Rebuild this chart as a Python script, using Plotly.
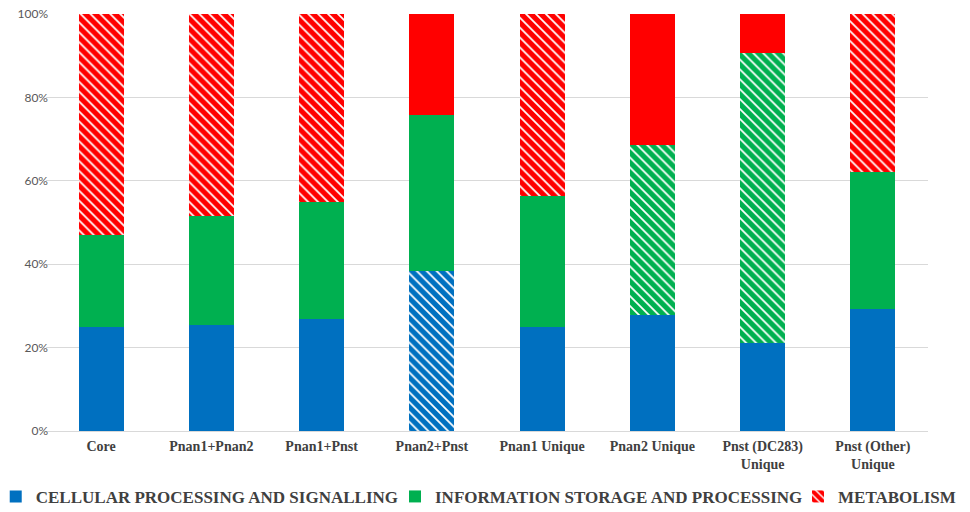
import plotly.graph_objects as go

categories = ["Core", "Pnan1+Pnan2", "Pnan1+Pnst", "Pnan2+Pnst", "Pnan1 Unique",
              "Pnan2 Unique", "Pnst (DC283)<br>Unique", "Pnst (Other)<br>Unique"]

# percentages per group
cellular = [24.9, 25.4, 26.9, 38.3, 25.0, 27.9, 21.1, 29.3]
information = [22.0, 26.2, 28.0, 37.5, 31.4, 40.7, 69.6, 32.9]
metabolism = [53.1, 48.4, 45.1, 24.2, 43.6, 31.4, 9.3, 37.8]

# "" = solid fill, "\\" = hatched
cellular_hatch = ["", "", "", "\\", "", "", "", ""]
information_hatch = ["", "", "", "", "", "\\", "\\", ""]
metabolism_hatch = ["\\", "\\", "\\", "", "\\", "", "", "\\"]

series = [
    ("CELLULAR PROCESSING AND SIGNALLING", cellular, cellular_hatch, "#0070C0", "legend"),
    ("INFORMATION STORAGE AND PROCESSING", information, information_hatch, "#00B050", "legend2"),
    ("METABOLISM", metabolism, metabolism_hatch, "#FF0000", "legend3"),
]

fig = go.Figure()
for name, vals, hatch, col, leg in series:
    fig.add_trace(go.Bar(
        x=categories, y=vals, name=name, legend=leg,
        marker=dict(color=col, line=dict(width=0),
                    pattern=dict(shape=hatch, fgcolor=col, bgcolor="white",
                                 fgopacity=1, size=7, solidity=0.75)),
    ))

legend_font = dict(family="Liberation Serif", size=17, color="#404040", weight="bold")
common = dict(orientation="h", y=-0.158, yanchor="middle", xanchor="left",
              font=legend_font, bgcolor="rgba(0,0,0,0)")

fig.update_layout(
    barmode="stack",
    bargap=0.59,
    width=970, height=512,
    margin=dict(l=46, r=42, t=14, b=81, autoexpand=False),
    paper_bgcolor="white",
    plot_bgcolor="white",
    showlegend=True,
    legend=dict(x=-0.057, **common),
    legend2=dict(x=0.3957, **common),
    legend3=dict(x=0.8526, **common),
    xaxis=dict(
        tickfont=dict(family="Liberation Serif", size=14, color="#404040", weight="bold"),
        showgrid=False, showline=False, ticks="", ticklabelstandoff=5,
    ),
    yaxis=dict(
        range=[0, 100], dtick=20, ticksuffix="%",
        tickfont=dict(family="Lato", size=12, color="#595959"),
        showgrid=True, gridcolor="#d9d9d9", gridwidth=1,
        zeroline=True, zerolinecolor="#d9d9d9", zerolinewidth=1,
        showline=False, ticks="", ticklabelstandoff=-3,
    ),
)

# drop the default body margin so the figure fills the window
fig.write_html("out.html", config={"displayModeBar": False},
               post_script="document.body.style.margin='0';")
